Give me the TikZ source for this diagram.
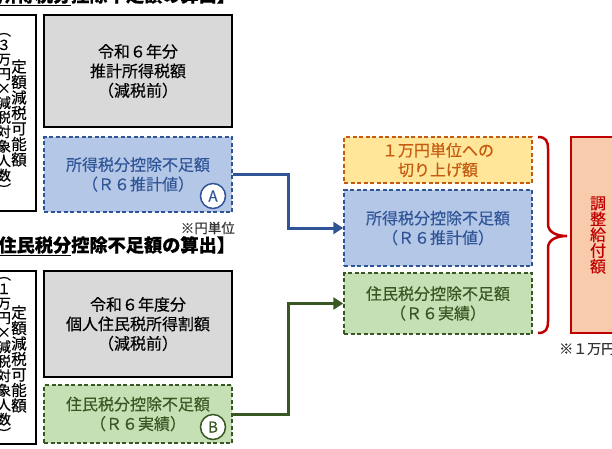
\documentclass[tikz,border=0pt]{standalone}
\usepackage{fontspec}
\setmainfont{Noto Sans CJK JP}[FakeBold=0.35]
\usepackage{tikz}
\usetikzlibrary{shapes,arrows,arrows.meta}

\definecolor{BoxGray}{HTML}{D9D9D9}
\definecolor{IncBlue}{HTML}{2F5597}
\definecolor{IncFill}{HTML}{B4C7E7}
\definecolor{ResGreen}{HTML}{385723}
\definecolor{ResFill}{HTML}{C5E0B4}
\definecolor{RndOrange}{HTML}{C55A11}
\definecolor{RndFill}{HTML}{FFE699}
\definecolor{AdjRed}{HTML}{C00000}
\definecolor{AdjFill}{HTML}{F8CBAD}
\definecolor{NoteGray}{HTML}{333333}

\begin{document}
\begin{tikzpicture}[x=1pt, y=-1pt]
			\tikzstyle{Base}	= [rectangle, align=center, inner sep=0pt, font=\fontsize{16}{19.5}\selectfont]
			\tikzstyle{Plain}	= [Base, draw=black, line width=1.5pt, fill=white]
			\tikzstyle{Gross}	= [Base, draw=black, line width=1.5pt, fill=BoxGray, minimum width=188pt]
			\tikzstyle{Short}	= [Base, dash pattern=on 4pt off 2.5pt, line width=1.5pt, minimum width=188pt]
			\tikzstyle{Income}	= [Short, draw=IncBlue, fill=IncFill, text=IncBlue]
			\tikzstyle{Resid}	= [Short, draw=ResGreen, fill=ResFill, text=ResGreen]
			\tikzstyle{Round}	= [Short, draw=RndOrange, fill=RndFill, text=RndOrange]
			\tikzstyle{Mark}	= [circle, fill=white, line width=1.5pt, minimum size=25pt, inner sep=0pt, font=\fontsize{15}{15}\selectfont]
			\tikzstyle{Column}	= [Base, font=\fontsize{15.5}{15.5}\selectfont]
			\tikzstyle{Title}	= [anchor=west, inner sep=0pt, font=\fontsize{18.2}{18.2}\selectfont\bfseries]
			\tikzstyle{Flow}	= [line width=3pt, -{Triangle[length=10pt, width=12pt]}]
			
			\useasboundingbox (0,0) rectangle (612,448);
			\clip (0,0) rectangle (612,448);
			
			\node (title1) at (-20,-4) [Title] {【\underline{所得税分}控除不足額の算出】};
			\node (title2) at (-20,246) [Title] {【\underline{住民税分}控除不足額の算出】};
			
			\node (limit1) at (-20,113) [Plain, minimum width=112pt, minimum height=196pt] {};
			\node (limit1a) at (19,113) [Column] {定\\額\\減\\税\\可\\能\\額};
			\node (limit1b) at (4,114) [Column, font=\fontsize{14}{14.5}\selectfont] {︵\\３\\万\\円\\×\\減\\税\\対\\象\\人\\数\\︶};
			\node (limit2) at (-20,357.5) [Plain, minimum width=112pt, minimum height=173pt] {};
			\node (limit2a) at (19,359) [Column] {定\\額\\減\\税\\可\\能\\額};
			\node (limit2b) at (4,358) [Column, font=\fontsize{14}{14.5}\selectfont] {︵\\１\\万\\円\\×\\減\\税\\対\\象\\人\\数\\︶};
			
			\node (gross1) at (138,71) [Gross, minimum height=112pt] {令和６年分\\推計所得税額\\（減税前）};
			\node (shortA) at (138,174.5) [Income, minimum height=75pt] {所得税分控除不足額\\（Ｒ６推計値）};
			\node (markA) at (213,196) [Mark, draw=IncBlue, text=IncBlue] {A};
			\node (unit) at (235,228) [anchor=east, inner sep=0pt, font=\fontsize{13.5}{13.5}\selectfont, text=NoteGray] {※円単位};
			
			\node (gross2) at (138,324) [Gross, minimum height=106pt] {令和６年度分\\個人住民税所得割額\\（減税前）};
			\node (shortB) at (138,414) [Resid, minimum height=58pt] {住民税分控除不足額\\（Ｒ６実績）};
			\node (markB) at (213,427) [Mark, draw=ResGreen, text=ResGreen] {B};
			
			\node (roundup) at (438,160) [Round, minimum height=46pt] {１万円単位への\\切り上げ額};
			\node (incomeR) at (438,228) [Income, minimum height=76pt] {所得税分控除不足額\\（Ｒ６推計値）};
			\node (residR) at (438,303.5) [Resid, minimum height=61pt] {住民税分控除不足額\\（Ｒ６実績）};
			
			\node (adjust) at (598,235) [Base, draw=AdjRed, line width=2pt, fill=AdjFill, text=AdjRed, minimum width=54pt, minimum height=196pt, font=\fontsize{16}{15.8}\selectfont] {調\\整\\給\\付\\額};
			\node (note) at (559,349) [anchor=west, inner sep=0pt, font=\fontsize{14}{14}\selectfont, text=NoteGray] {※１万円};
			
			\draw [Flow, IncBlue] (shortA.east) -- ++(56,0) |- (incomeR.west);
			\draw [Flow, ResGreen] (shortB.east) -- ++(56,0) |- (residR.west);
			
			\draw [AdjRed, line width=2.5pt] (538,137) .. controls (546,137) and (548,141) .. (548,149) -- (548,224)
				.. controls (548,232) and (556,236) .. (567,236) .. controls (556,236) and (548,240) .. (548,248)
				-- (548,321) .. controls (548,329) and (546,333) .. (538,333);
		\end{tikzpicture}
\end{document}
